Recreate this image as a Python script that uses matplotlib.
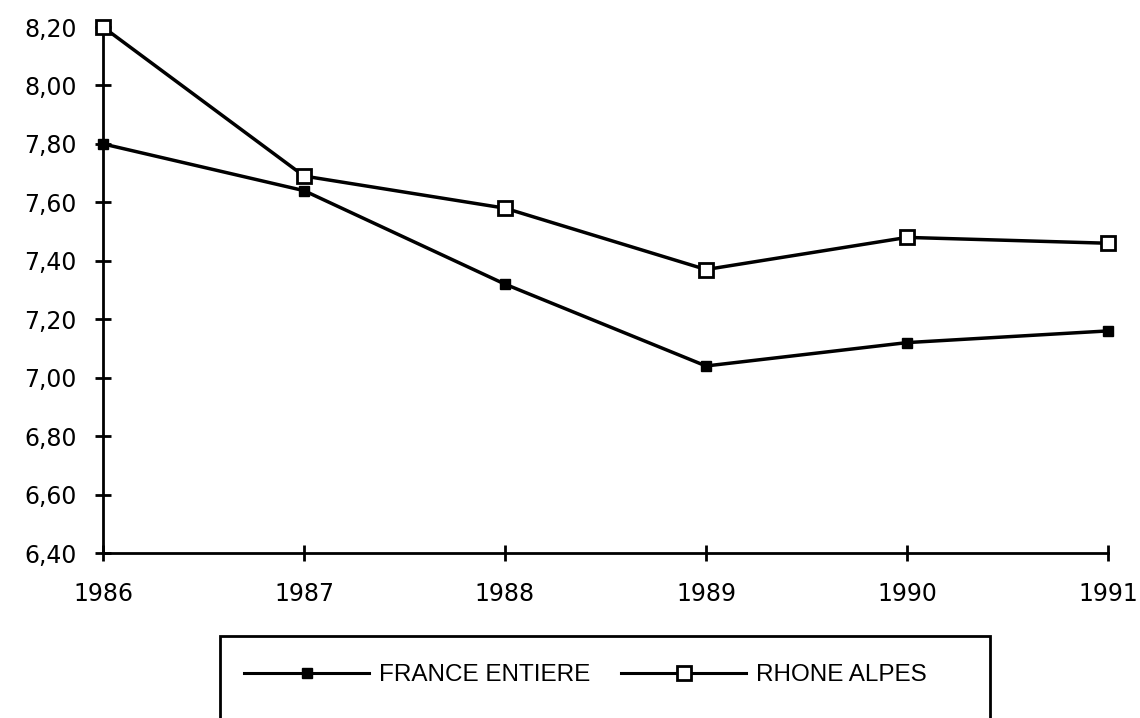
import matplotlib

matplotlib.use("Agg")
import matplotlib.pyplot as plt
from matplotlib import font_manager
from matplotlib.lines import Line2D
from matplotlib.patches import Rectangle
from matplotlib.ticker import FuncFormatter

plt.rcParams["font.family"] = ["DejaVu Sans"]

years = [1986, 1987, 1988, 1989, 1990, 1991]
france_entiere = [7.80, 7.64, 7.32, 7.04, 7.12, 7.16]
rhone_alpes = [8.20, 7.69, 7.58, 7.37, 7.48, 7.46]
y_ticks = [6.40, 6.60, 6.80, 7.00, 7.20, 7.40, 7.60, 7.80, 8.00, 8.20]
series_labels = ["FRANCE ENTIERE", "RHONE ALPES"]

# condensed face for the legend if we have it
installed = {f.name for f in font_manager.fontManager.ttflist}
if "Liberation Sans Narrow" in installed:
    legend_font = {"family": "Liberation Sans Narrow", "size": 21}
else:
    legend_font = {"family": "Liberation Sans", "size": 17.5}

fig = plt.figure(figsize=(11.4, 7.18), dpi=100)
ax = fig.add_axes([103 / 1140, 1 - 553 / 718, (1108 - 103) / 1140, (553 - 27) / 718])

ax.plot(years, france_entiere, color="black", linewidth=2.5, marker="s",
        markersize=7.5, markerfacecolor="black", markeredgecolor="black",
        clip_on=False, zorder=3)
ax.plot(years, rhone_alpes, color="black", linewidth=2.5, marker="s",
        markersize=10.5, markerfacecolor="white", markeredgecolor="black",
        markeredgewidth=2.0, clip_on=False, zorder=4)

ax.set_xlim(years[0], years[-1])
ax.set_ylim(y_ticks[0], y_ticks[-1])
ax.set_xticks(years)
ax.set_yticks(y_ticks)
ax.yaxis.set_major_formatter(FuncFormatter(lambda v, p: f"{v:.2f}".replace(".", ",")))

for side in ["top", "right"]:
    ax.spines[side].set_visible(False)
for side in ["left", "bottom"]:
    ax.spines[side].set_linewidth(2.0)

ax.tick_params(axis="both", direction="inout", length=12, width=2.0, labelsize=17)
ax.tick_params(axis="x", pad=15)
ax.tick_params(axis="y", pad=13)

# legend box runs past the bottom edge of the page
fig.patches.append(Rectangle((220 / 1140, -0.05), (990 - 220) / 1140, 1 - 636 / 718 + 0.05,
                             transform=fig.transFigure, fill=False, edgecolor="black",
                             linewidth=2.0, clip_on=False))

handles = [
    Line2D([0], [0], color="black", linewidth=2.2, marker="s", markersize=7,
           markerfacecolor="black", markeredgecolor="black"),
    Line2D([0], [0], color="black", linewidth=2.2, marker="s", markersize=10,
           markerfacecolor="white", markeredgecolor="black", markeredgewidth=2.0),
]
em = legend_font["size"] * 100 / 72
fig.legend(handles, series_labels, loc="center left",
           bbox_to_anchor=(244 / 1140, 1 - 675 / 718), borderaxespad=0, borderpad=0,
           ncol=2, frameon=False, prop=legend_font,
           handlelength=125 / em, handletextpad=10 / em, columnspacing=31 / em)

fig.savefig("out.png", dpi=100)
